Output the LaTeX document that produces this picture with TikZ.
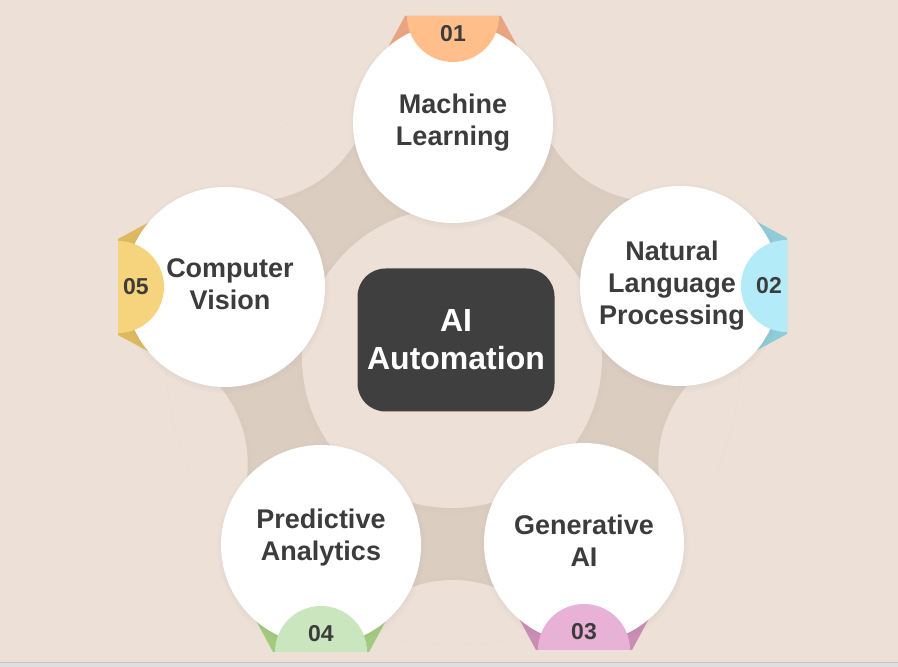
\documentclass[tikz,border=0pt]{standalone}
\usepackage{fontspec}
\setmainfont{Liberation Sans}
\usetikzlibrary{shadows}

\definecolor{paper}{HTML}{ECE0D7}
\definecolor{band}{HTML}{DCCDC1}
\definecolor{ink}{HTML}{3C3C3C}
\definecolor{boxgray}{HTML}{3F3F3F}
\definecolor{peachlight}{HTML}{FFBE8A}
\definecolor{peachdark}{HTML}{E9A582}
\definecolor{cyanlight}{HTML}{B3EBF8}
\definecolor{cyandark}{HTML}{90CBD8}
\definecolor{pinklight}{HTML}{E8B1D6}
\definecolor{pinkdark}{HTML}{CB8DB4}
\definecolor{greenlight}{HTML}{C9E6BF}
\definecolor{greendark}{HTML}{A2CB80}
\definecolor{yellowlight}{HTML}{F6D47D}
\definecolor{yellowdark}{HTML}{DDB960}

\tikzset{
  softshadow/.style={circular drop shadow={shadow xshift=0pt, shadow yshift=-1.5pt, shadow scale=1.05, opacity=0.18}},
  bubble/.style={circle, fill=white, minimum size=200pt, inner sep=0pt, softshadow},
  scallop/.style={circle, fill=paper, minimum size=240pt, inner sep=0pt, circular drop shadow={shadow xshift=0pt, shadow yshift=0pt, shadow scale=1.04, opacity=0.1}},
  topic/.style={text=ink, font=\fontsize{27}{32}\selectfont\bfseries, align=center},
  badgenum/.style={text=ink, font=\fontsize{23}{26}\selectfont\bfseries},
  corebox/.style={rectangle, rounded corners=28pt, fill=boxgray, text=white, minimum width=197pt, minimum height=143pt, align=center, font=\fontsize{32}{38}\selectfont\bfseries}
}

\begin{document}
\begin{tikzpicture}[x=1pt, y=1pt]
\useasboundingbox (0,0) rectangle (898,667);
\fill[paper] (0,0) rectangle (898,667);

% ring behind the topics
\coordinate (hub) at (453,309);
\fill[band] (hub) circle[radius=282pt];
\begin{scope}
  \clip (hub) circle[radius=287pt];
  \foreach \a in {54,-18,-90,198,126}
    \node[scallop] at ([shift={(\a:342pt)}]hub) {};
  \node[scallop, minimum size=300pt] (inner) at (452,309) {};
\end{scope}

% topic positions
\coordinate (pml) at (453,544);
\coordinate (pnlp) at (680,381);
\coordinate (pgen) at (584,124);
\coordinate (ppred) at (321,122);
\coordinate (pcv) at (225,380);

% tab ribbons
\foreach \c/\a/\dark in {ml/90/peachdark, nlp/0/cyandark, gen/-90/pinkdark, pred/-90/greendark, cv/180/yellowdark}{
  \begin{scope}[shift={(p\c)}, rotate=\a-90]
    \fill[\dark] (-48,107) -- (48,107) -- (95,20) -- (-95,20) -- cycle;
  \end{scope}
}

% topic circles
\node[bubble] (ml) at (pml) {};
\node[bubble] (nlp) at (pnlp) {};
\node[bubble] (gen) at (pgen) {};
\node[bubble] (pred) at (ppred) {};
\node[bubble] (cv) at (pcv) {};

% number badges
\foreach \c/\a/\light/\num in {ml/90/peachlight/01, nlp/0/cyanlight/02, gen/-90/pinklight/03, pred/-90/greenlight/04, cv/180/yellowlight/05}{
  \begin{scope}[shift={(p\c)}, rotate=\a-90]
    \fill[\light] (46,107) arc[start angle=0, end angle=-180, radius=46pt] -- cycle;
    \node[badgenum] (num\c) at (0,89) {\num};
  \end{scope}
}

% labels
\node[topic] (mltext) at (ml) {Machine\\Learning};
\node[topic] (nlptext) at ([xshift=-8pt]nlp) {Natural\\Language\\Processing};
\node[topic] (gentext) at ([yshift=2pt]gen) {Generative\\AI};
\node[topic] (predtext) at ([yshift=7pt]pred) {Predictive\\Analytics};
\node[topic] (cvtext) at ([xshift=5pt, yshift=3pt]cv) {Computer\\Vision};

\node[corebox] (core) at (456,327) {AI\\Automation};

% bottom edge
\fill[gray!25] (0,0) rectangle (898,4);
\draw[gray!45, line width=1pt] (0,4) -- (898,4);
\end{tikzpicture}
\end{document}
